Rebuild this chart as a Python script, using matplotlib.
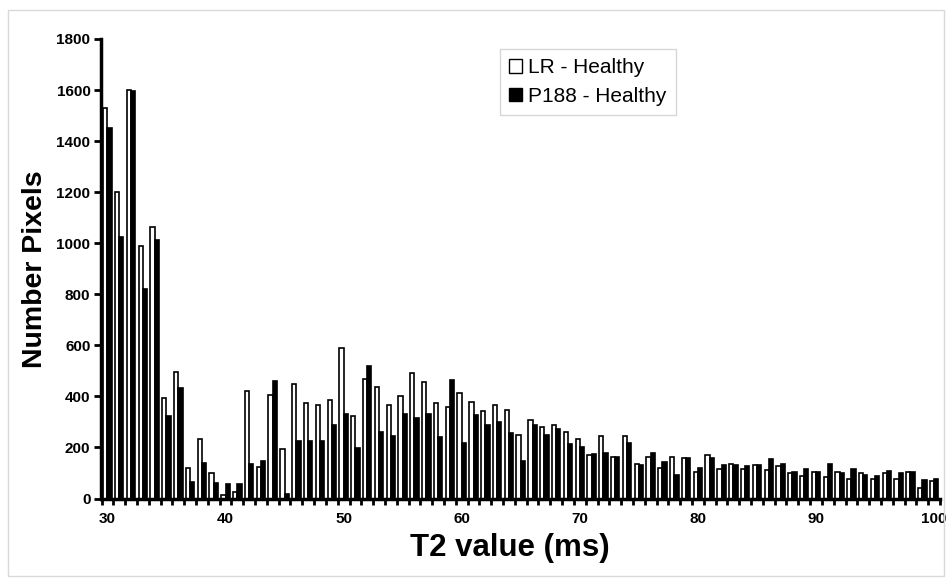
import matplotlib
matplotlib.use("Agg")
import matplotlib.pyplot as plt
from matplotlib.patches import Patch, Rectangle
import numpy as np

plt.rcParams['font.family'] = ['Liberation Sans', 'DejaVu Sans']

t2_values = list(range(30, 101))
lr_healthy = [1530, 1200, 1600, 991, 1065, 395, 497, 120, 233, 98,
              15, 27, 421, 125, 405, 195, 448, 374, 367, 384,
              588, 324, 469, 437, 367, 400, 491, 455, 374, 357,
              412, 379, 341, 367, 346, 250, 308, 281, 286, 260,
              234, 169, 243, 162, 243, 137, 163, 120, 163, 157,
              103, 171, 114, 137, 115, 132, 110, 127, 98, 87,
              103, 85, 103, 76, 99, 76, 99, 77, 103, 43,
              67]
p188_healthy = [1450, 1024, 1595, 820, 1013, 324, 431, 65, 141, 61,
                56, 56, 136, 146, 459, 18, 227, 227, 227, 287,
                331, 197, 519, 261, 244, 331, 315, 331, 240, 465,
                218, 326, 287, 299, 255, 148, 287, 250, 272, 212,
                202, 174, 179, 162, 218, 132, 180, 142, 94, 157,
                120, 158, 132, 132, 127, 132, 153, 137, 103, 115,
                103, 137, 98, 115, 91, 87, 108, 98, 103, 72,
                76]
y_ticks = [0, 200, 400, 600, 800, 1000, 1200, 1400, 1600, 1800]
x_labels = [30, 40, 50, 60, 70, 80, 90, 100]

fig = plt.figure(figsize=(9.53, 5.78), dpi=100)
ax = fig.add_axes([101.5 / 953, 1 - 498.5 / 578, (940 - 101.5) / 953, (498.5 - 39) / 578])

x = np.array(t2_values, dtype=float)
w = 0.36
ax.bar(x - w / 2, lr_healthy, width=w, color='white', edgecolor='black', linewidth=1.2,
       label='LR - Healthy', zorder=2)
ax.bar(x + w / 2, p188_healthy, width=w, color='black', edgecolor='black', linewidth=1.2,
       label='P188 - Healthy', zorder=2)

ax.set_xlim(29.5, 100.5)
ax.set_ylim(0, 1800)
ax.set_yticks(y_ticks)
ax.set_yticklabels([str(v) for v in y_ticks], fontsize=11, fontweight='bold')
ax.set_xticks(x_labels)
ax.set_xticklabels([str(v) for v in x_labels], fontsize=11, fontweight='bold')
ax.tick_params(axis='x', which='major', length=0, pad=10)
ax.set_xticks(np.arange(29.5, 100.6, 1.0), minor=True)
ax.tick_params(axis='x', which='minor', direction='out', length=4, width=2)
ax.tick_params(axis='y', which='major', direction='out', length=5, width=2, pad=3)

for side in ['top', 'right']:
    ax.spines[side].set_visible(False)
for side in ['left', 'bottom']:
    ax.spines[side].set_linewidth(2.5)

ax.set_ylabel('Number Pixels', fontsize=20.5, fontweight='bold', labelpad=6)
ax.set_xlabel('T2 value (ms)', fontsize=22.5, fontweight='bold', labelpad=5)
ax.xaxis.label.set_x((510 - 101.5) / 838.5)

handles = [Patch(facecolor='white', edgecolor='black', linewidth=1.0),
           Patch(facecolor='black', edgecolor='black', linewidth=1.0)]
leg = ax.legend(handles, ['LR - Healthy', 'P188 - Healthy'],
                loc='upper left', bbox_to_anchor=((500 - 101.5) / 838.5, 1 - (49 - 39) / 459.5),
                fontsize=15, frameon=True, fancybox=False, handlelength=0.6, handleheight=0.6,
                handletextpad=0.3, borderpad=0.45, labelspacing=0.45, borderaxespad=0)
leg.get_frame().set_edgecolor('#cccccc')
leg.get_frame().set_linewidth(1.0)

fig.patches.append(Rectangle((8 / 953, 1 - 576 / 578), (944 - 8) / 953, (576 - 10) / 578,
                             transform=fig.transFigure, fill=False, edgecolor='#d9d9d9',
                             linewidth=1.0))

fig.savefig('out.png', dpi=100)
